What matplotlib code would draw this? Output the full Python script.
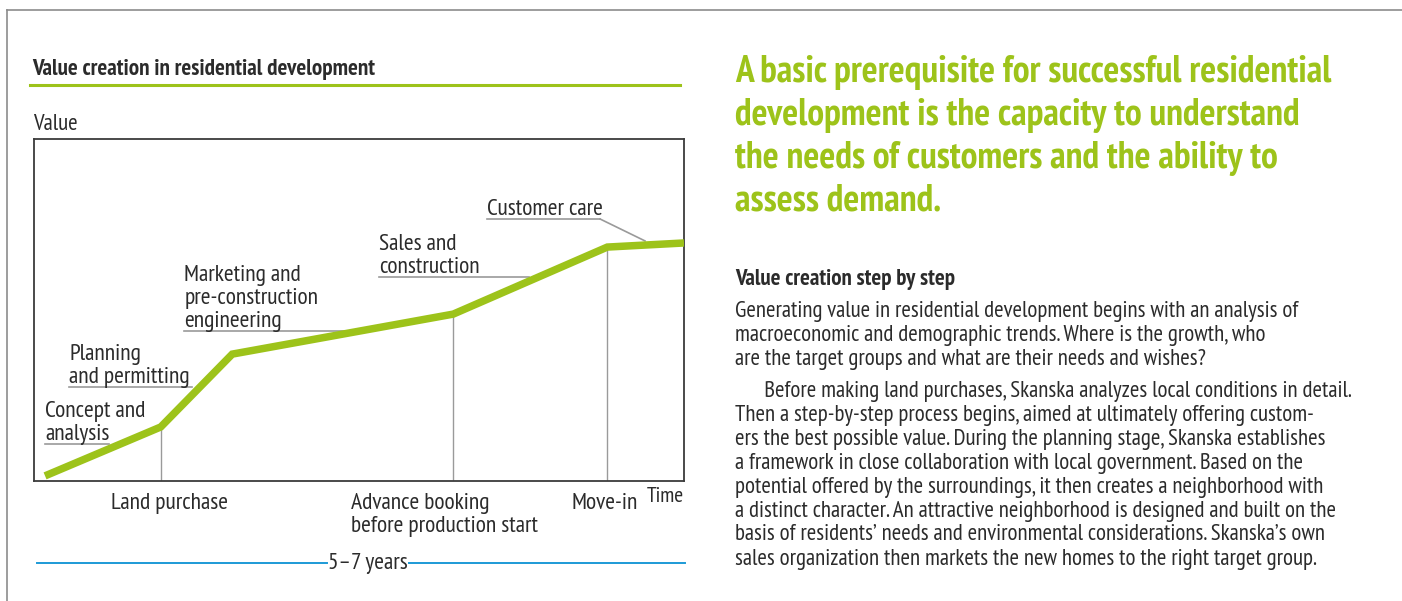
import matplotlib
matplotlib.use("Agg")
import matplotlib.pyplot as plt
from matplotlib import font_manager

# value curve (time and value in % of the chart box)
time_pts = [1.7, 19.5, 30.5, 64.5, 88.2, 100.0]
value_pts = [1.5, 15.8, 37.1, 48.8, 68.4, 69.6]

# phases along the curve
phase_names = ["Concept and\nanalysis", "Planning\nand permitting",
               "Marketing and\npre-construction\nengineering",
               "Sales and\nconstruction", "Customer care"]
phase_x0 = [1.7, 5.4, 23.1, 53.1, 69.7]
phase_x1 = [11.5, 24.3, 47.7, 76.2, 87.1]
phase_y = [10.8, 27.5, 43.9, 59.6, 76.6]

# milestones on the time axis (the vertices where a drop line is drawn)
milestone_idx = [1, 3, 4]
milestone_names = ["Land purchase", "Advance booking\nbefore production start", "Move-in"]

headline = ["A basic prerequisite for successful residential",
            "development is the capacity to understand",
            "the needs of customers and the ability to",
            "assess demand."]
body_title = "Value creation step by step"
body_lines = [
    "Generating value in residential development begins with an analysis of",
    "macroeconomic and demographic trends. Where is the growth, who",
    "are the target groups and what are their needs and wishes?",
    "      Before making land purchases, Skanska analyzes local conditions in detail.",
    "Then a step-by-step process begins, aimed at ultimately offering custom-",
    "ers the best possible value. During the planning stage, Skanska establishes",
    "a framework in close collaboration with local government. Based on the",
    "potential offered by the surroundings, it then creates a neighborhood with",
    "a distinct character. An attractive neighborhood is designed and built on the",
    "basis of residents\u2019 needs and environmental considerations. Skanska\u2019s own",
    "sales organization then markets the new homes to the right target group.",
]

names = {f.name for f in font_manager.fontManager.ttflist}
narrow = next((n for n in ["PT Sans Narrow", "Fira Sans Condensed", "Asap Condensed",
                           "Archivo Narrow"] if n in names), "DejaVu Sans")
plt.rcParams['font.family'] = [narrow, 'DejaVu Sans']

GREEN = '#9dc31a'
BLUE = '#1d9ad6'
GRAY = '#9a9a9a'
TXT = '#2b2b2b'
W, H = 1402, 601

fig = plt.figure(figsize=(W / 100, H / 100), dpi=100)
rend = fig.canvas.get_renderer()

def px(x, y):
    return x / W, 1 - y / H

def fit(s, width, weight='normal'):
    # font size that gives the text the width it has in the reference
    t = fig.text(0, 0, s, fontsize=10, fontweight=weight)
    w = t.get_window_extent(rend).width
    t.remove()
    return 10 * width / w

lab_fs = fit("Customer care", 116)
head_fs = fit(headline[0], 602, 'bold')
body_fs = fit(body_lines[0], 563)
title_fs = fit("Value creation in residential development", 346, 'bold')
sub_fs = fit(body_title, 220, 'bold')

# page frame
fig.add_artist(plt.Line2D([7 / W, 1], [1 - 10 / H] * 2, color='#8c8c8c', lw=1.2))
fig.add_artist(plt.Line2D([7 / W] * 2, [0, 1 - 10 / H], color='#8c8c8c', lw=1.2))

# chart title and rule
fig.text(*px(32, 69), "Value creation in residential development", fontsize=title_fs,
         fontweight='bold', color=TXT, va='center')
fig.add_artist(plt.Line2D([30 / W, 680 / W], [1 - 85 / H] * 2, color=GREEN, lw=2.2))
fig.text(*px(33, 124), "Value", fontsize=body_fs, color=TXT, va='center')

ax = fig.add_axes([34 / W, (H - 481) / H, 650 / W, 342 / H])
ax.set_xlim(0, 100)
ax.set_ylim(0, 100)
ax.set_xticks([])
ax.set_yticks([])
for s in ax.spines.values():
    s.set_color('#3c3c3c')
    s.set_linewidth(1.3)

for i in milestone_idx:
    ax.plot([time_pts[i]] * 2, [0, value_pts[i]], color=GRAY, lw=1.0, zorder=1)

for name, x0, x1, y in zip(phase_names, phase_x0, phase_x1, phase_y):
    ax.plot([x0, x1], [y, y], color=GRAY, lw=1.2, zorder=1)
    ax.text(x0, y - 0.2, name, fontsize=lab_fs, color=TXT, va='bottom', ha='left',
            linespacing=1.1)
# customer care leader bends down to the curve
ax.plot([phase_x1[-1], 94.0], [phase_y[-1], 70.2], color=GRAY, lw=1.2, zorder=1)

ax.plot(time_pts, value_pts, color=GREEN, lw=5.4, solid_joinstyle='miter',
        solid_capstyle='butt', zorder=3)

ax.text(time_pts[1] + 1.4, -3.5, milestone_names[0], fontsize=lab_fs, color=TXT,
        ha='center', va='top', clip_on=False)
ax.text(48.8, -3.5, milestone_names[1], fontsize=lab_fs, color=TXT, ha='left', va='top',
        linespacing=1.1, clip_on=False)
ax.text(time_pts[4] - 0.4, -3.5, milestone_names[2], fontsize=lab_fs, color=TXT,
        ha='center', va='top', clip_on=False)
ax.text(100, -1.8, "Time", fontsize=body_fs * 0.95, color=TXT, ha='right', va='top',
        clip_on=False)

# 5-7 years span
fig.add_artist(plt.Line2D([37 / W, 327 / W], [1 - 563 / H] * 2, color=BLUE, lw=1.4))
fig.add_artist(plt.Line2D([409 / W, 685 / W], [1 - 563 / H] * 2, color=BLUE, lw=1.4))
fig.text(*px(368, 563), "5\u20137 years", fontsize=lab_fs, color=TXT, ha='center',
         va='center')

# right column
for k, line in enumerate(headline):
    fig.text(*px(735, 72 + 43 * k), line, fontsize=head_fs, fontweight='bold', color=GREEN,
             va='center')
fig.text(*px(735, 280), body_title, fontsize=sub_fs, fontweight='bold', color=TXT,
         va='center')
ys = [312, 336, 360, 391, 415, 439, 463, 487, 511, 535, 559]
for y, line in zip(ys, body_lines):
    fig.text(*px(735, y), line, fontsize=body_fs, color=TXT, va='center')

fig.savefig("out.png", dpi=100)
